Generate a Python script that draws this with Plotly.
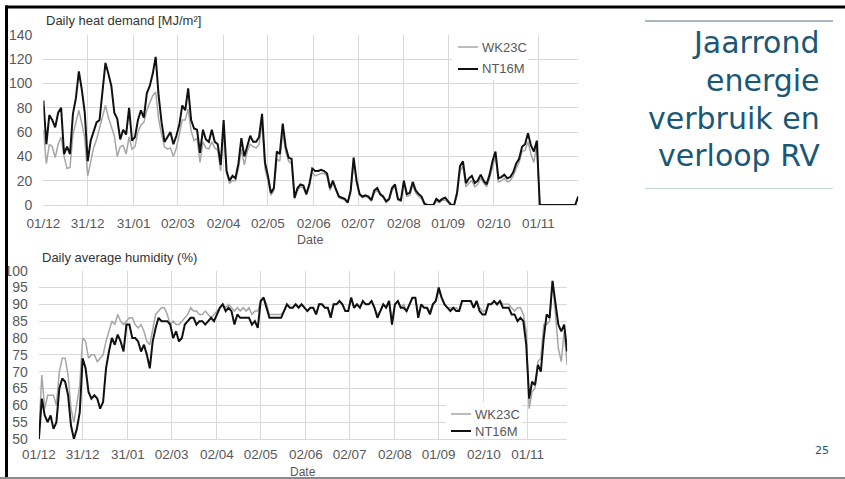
import pandas as pd
import plotly.graph_objects as go

# ---------------------------------------------------------------- data
# Readings every second day, 1 Dec 2014 .. 28 Nov 2015
dates = pd.date_range("2014-12-01", periods=182, freq="2D")

tick_dates = ["2014-12-01", "2014-12-31", "2015-01-31", "2015-03-02", "2015-04-02",
              "2015-05-02", "2015-06-02", "2015-07-02", "2015-08-02", "2015-09-01",
              "2015-10-02", "2015-11-01"]
tick_text = ["01/12", "31/12", "31/01", "02/03", "02/04", "02/05", "02/06",
             "02/07", "02/08", "01/09", "02/10", "01/11"]

# Daily heat demand [MJ/m2]
heat_nt = [
    86, 50, 74, 70, 64, 76, 80, 42, 48, 42,
    75, 88, 110, 95, 76, 36, 53, 60, 68, 70,
    96, 117, 108, 98, 76, 71, 54, 62, 58, 80,
    53, 56, 70, 78, 72, 92, 98, 108, 122, 90,
    68, 52, 56, 60, 50, 57, 66, 82, 78, 96,
    70, 63, 62, 43, 62, 54, 52, 62, 52, 50,
    33, 70,
    28, 20, 24, 22, 34, 55, 40, 48, 57, 52,
    52, 56, 75, 35, 24, 10, 14, 44, 42, 67,
    48, 39, 38, 6, 14, 17, 16, 9, 17, 30,
    28, 28, 29, 28, 26, 14, 20, 13, 7, 6,
    5, 2, 12, 39, 20, 9, 7, 8, 7, 4,
    12, 14, 9, 7, 3, 5, 14, 17, 5, 4,
    20,
    9, 10, 19, 12, 9, 7, 1, 0, 0, 0,
    5, 3, 5, 6, 3, 0, 0, 10, 32, 36,
    18, 22, 24, 18, 20, 25, 20, 17, 25, 36,
    44, 22, 23, 25, 22, 23, 27, 34, 38, 48,
    50, 59, 49, 44, 53, 0, 0, 0, 0, 0,
    0, 0, 0, 0, 0, 0, 0, 0, 7,
]
heat_wk = [
    62, 34, 50, 48, 39, 50, 56, 40, 30, 31,
    58, 68, 78, 67, 55, 24, 36, 47, 54, 63,
    72, 82, 72, 64, 57, 40, 48, 49, 42, 56,
    46, 48, 60, 66, 68, 78, 84, 90, 93, 71,
    58, 48, 46, 47, 40, 47, 58, 70, 70, 79,
    61, 53, 55, 35, 52, 47, 46, 52, 47, 45,
    28, 62,
    26, 18, 20, 20, 30, 46, 33, 44, 50, 48,
    47, 50, 68, 30, 20, 8, 12, 38, 36, 60,
    44, 36, 34, 5, 12, 15, 14, 8, 15, 27,
    24, 25, 26, 26, 24, 12, 18, 12, 6, 5,
    4, 2, 10, 35, 18, 8, 6, 7, 6, 3,
    10, 12, 8, 6, 2, 4, 12, 15, 4, 3,
    18,
    7, 8, 16, 10, 7, 5, 0, 0, 0, 0,
    3, 2, 4, 4, 2, 0, 0, 8, 28, 32,
    15, 18, 20, 15, 17, 22, 18, 15, 22, 32,
    40, 19, 20, 22, 19, 20, 24, 30, 35, 44,
    45, 52, 42, 35, 50, 0, 0, 0, 0, 0,
    0, 0, 0, 0, 0, 0, 0, 0, 7,
]

# Daily average humidity (%)
rh_nt = [
    50, 62, 57, 55, 57, 53, 55, 65, 68, 67,
    63, 54, 50, 53, 58, 74, 71, 64, 62, 63,
    62, 59, 61, 71, 76, 80, 78, 81, 79, 76,
    84, 84, 80, 80, 79, 76, 78, 75, 71, 79,
    83, 86, 85, 85, 85, 84, 80, 82, 79, 80,
    84, 85, 86, 86, 84, 85, 85, 84, 85, 86,
    85, 87,
    89, 90, 88, 89, 88, 84, 87, 86, 86, 86,
    86, 84, 85, 83, 91, 92, 89, 86, 86, 86,
    86, 86, 88, 90, 89, 89, 90, 89, 90, 89,
    88, 89, 89, 87, 90, 90, 89, 89, 86, 90,
    90, 91, 90, 88, 88, 92, 89, 90, 89, 91,
    90, 90, 91, 89, 86, 88, 90, 89, 91, 84,
    90,
    91, 89, 89, 88, 90, 92, 92, 86, 90, 89,
    89, 87, 90, 91, 95, 92, 90, 89, 88, 89,
    88, 88, 91, 91, 91, 91, 89, 91, 88, 87,
    87, 90, 90, 91, 90, 91, 89, 89, 89, 87,
    87, 85, 86, 85, 78, 62, 67, 66, 72, 70,
    80, 87, 86, 97, 90, 84, 82, 84, 76,
]
rh_wk = [
    52, 69, 59, 63, 63, 63, 60, 70, 74, 74,
    69, 59, 55, 60, 66, 80, 79, 74, 75, 75,
    73, 74, 75, 79, 82, 85, 84, 87, 85, 84,
    85, 86, 86, 84, 83, 84, 82, 79, 78, 82,
    87, 88, 89, 89, 87, 84, 85, 84, 84, 85,
    86, 87, 89, 88, 88, 87, 87, 88, 87, 86,
    87, 88,
    89, 90, 89, 90, 89, 88, 89, 88, 89, 88,
    89, 87, 88, 88, 91, 92, 90, 87, 87, 87,
    87, 87, 88, 90, 89, 89, 90, 89, 90, 89,
    88, 89, 89, 87, 90, 90, 89, 89, 87, 90,
    90, 91, 90, 88, 88, 92, 89, 90, 89, 91,
    90, 90, 91, 89, 87, 88, 90, 89, 91, 85,
    90,
    91, 89, 90, 88, 90, 92, 92, 87, 90, 89,
    89, 88, 90, 91, 94, 92, 90, 89, 89, 89,
    89, 88, 91, 91, 91, 91, 89, 91, 89, 88,
    88, 90, 90, 91, 90, 91, 90, 90, 90, 89,
    88, 89, 89, 87, 82, 59, 64, 65, 73, 74,
    84, 84, 85, 97, 88, 77, 73, 82, 72,
]

series_names = ["WK23C", "NT16M"]
title_lines = ["Jaarrond", "energie", "verbruik en", "verloop RV"]

# ---------------------------------------------------------------- styling
W, H = 845, 479
GREY = "#a6a6a6"
BLACK = "#111111"
GRID = "#d9d9d9"
TICK = "#595959"
TEAL = "#1b5876"
FONT = "Liberation Sans"


def fx(x):
    return x / W


def fy(y):
    return 1 - y / H


fig = go.Figure()

# heat demand panel (x, y) and humidity panel (x2, y2)
fig.add_trace(go.Scatter(x=dates, y=heat_wk, mode="lines", name=series_names[0],
                         line=dict(color=GREY, width=1.5), xaxis="x", yaxis="y"))
fig.add_trace(go.Scatter(x=dates, y=heat_nt, mode="lines", name=series_names[1],
                         line=dict(color=BLACK, width=2), xaxis="x", yaxis="y"))
fig.add_trace(go.Scatter(x=dates, y=rh_wk, mode="lines", name=series_names[0],
                         line=dict(color=GREY, width=1.5), xaxis="x2", yaxis="y2"))
fig.add_trace(go.Scatter(x=dates, y=rh_nt, mode="lines", name=series_names[1],
                         line=dict(color=BLACK, width=2), xaxis="x2", yaxis="y2"))


def xaxis_style(standoff):
    return dict(type="date", range=[dates[0], dates[-1]], tickmode="array",
                tickvals=tick_dates, ticktext=tick_text, showgrid=True,
                gridcolor=GRID, gridwidth=1, zeroline=False, showline=True,
                linecolor=GRID, linewidth=1, ticks="", ticklabelstandoff=standoff,
                automargin=False,
                tickfont=dict(family=FONT, size=13.5, color=TICK))


ycommon = dict(showgrid=True, gridcolor=GRID, gridwidth=1, zeroline=False,
               showline=False, ticks="", ticklabelstandoff=10, automargin=False,
               tickfont=dict(family=FONT, size=14, color=TICK))

fig.update_layout(
    width=W, height=H, margin=dict(l=0, r=0, t=0, b=0, pad=0),
    paper_bgcolor="white", plot_bgcolor="white", showlegend=False,
    xaxis=dict(domain=[fx(43.4), fx(578.2)], anchor="y", **xaxis_style(6)),
    yaxis=dict(domain=[fy(205), fy(35)], anchor="x", range=[0, 140], dtick=20, **ycommon),
    xaxis2=dict(domain=[fx(38.9), fx(567.1)], anchor="y2", **xaxis_style(3)),
    yaxis2=dict(domain=[fy(439), fy(270.7)], anchor="x2", range=[50, 100], dtick=5, **ycommon),
)

shapes = []
annotations = []


def text(x, y, s, size=13, color="#404040", xanchor="left", family=FONT):
    annotations.append(dict(x=fx(x), y=fy(y), xref="paper", yref="paper", text=s,
                            showarrow=False, xanchor=xanchor, yanchor="middle",
                            font=dict(family=family, size=size, color=color)))


def hline(x0, x1, y, color, width):
    shapes.append(dict(type="line", xref="paper", yref="paper", x0=fx(x0), x1=fx(x1),
                       y0=fy(y), y1=fy(y), line=dict(color=color, width=width)))


# panel titles and axis titles
text(44, 21, "Daily heat demand [MJ/m²]", color="#333333")
text(40, 257, "Daily average humidity (%)", color="#333333")
text(310, 239.5, "Date", size=12.5, color=TICK, xanchor="center")
text(302.5, 472, "Date", size=12, color=TICK, xanchor="center")

# legends
for (bx0, bx1, by0, by1, lx0, lx1, ty) in [(452, 528, 35, 80, 458, 478, (47, 69)),
                                             (446, 522, 402, 437, 451, 471, (414, 431))]:
    shapes.append(dict(type="rect", xref="paper", yref="paper", x0=fx(bx0), x1=fx(bx1),
                       y0=fy(by1), y1=fy(by0), fillcolor="white", line=dict(width=0)))
    hline(lx0, lx1, ty[0], GREY, 1.5)
    hline(lx0, lx1, ty[1], BLACK, 2)
    text(lx1 + 1.5, ty[0], series_names[0], color=TICK)
    text(lx1 + 1.5, ty[1], series_names[1], color=TICK)

# right-hand title block
hline(645, 833, 21, "#5b7384", 1.2)
hline(645, 833, 188.5, "#c5d3dd", 1.2)
for line_text, yc in zip(title_lines, [42.5, 80, 118, 155]):
    text(822, yc, line_text, size=30, color=TEAL, xanchor="right", family="DejaVu Sans")
text(822, 450, "25", size=11, color=TEAL, xanchor="center", family="DejaVu Sans")

# slide frame
hline(5, 845, 7, "black", 3)
shapes.append(dict(type="line", xref="paper", yref="paper", x0=fx(6.5), x1=fx(6.5),
                   y0=fy(5.5), y1=0, line=dict(color="black", width=3)))
hline(0, 845, 478, "#8a8a8a", 2)

fig.update_layout(shapes=shapes, annotations=annotations)
fig.write_html("out.html")
